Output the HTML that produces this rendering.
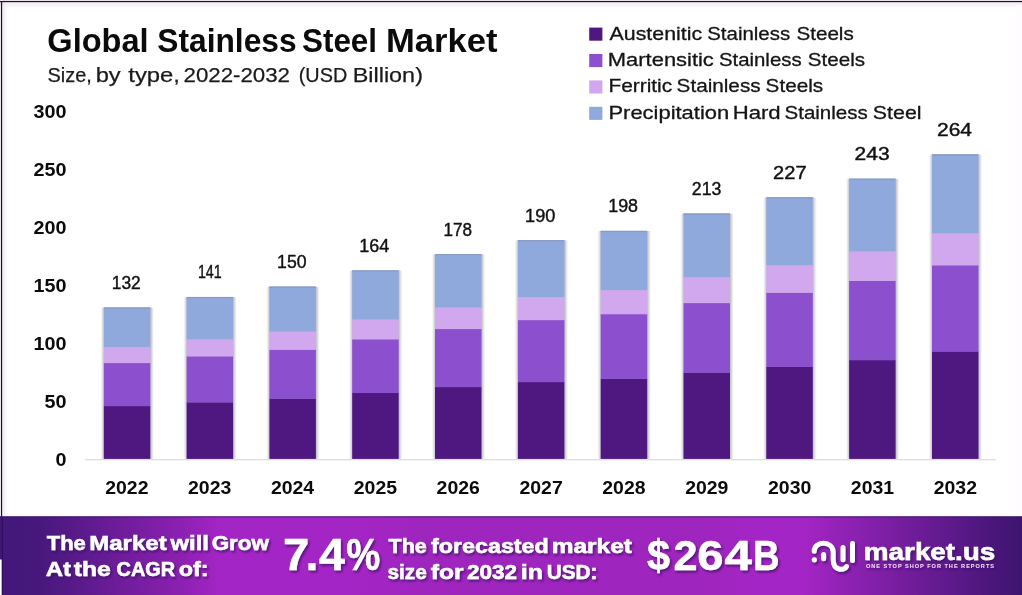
<!DOCTYPE html>
<html lang="en"><head><meta charset="utf-8"><title>Global Stainless Steel Market</title>
<style>
html,body{margin:0;padding:0;background:#fff;}
body{width:1022px;height:595px;overflow:hidden;position:relative;font-family:"Liberation Sans",sans-serif;}
svg{position:absolute;left:0;top:0;display:block;}
text{font-family:"Liberation Sans",sans-serif;white-space:pre;}
.t{font-weight:bold;fill:#0b0b0b;}
.s{fill:#1a1a1a;stroke:#1a1a1a;stroke-width:0.25px;}
.ax{font-weight:bold;fill:#0b0b0b;}
.dl{fill:#111;stroke:#111;stroke-width:0.4px;}
.lg{fill:#141414;stroke:#141414;stroke-width:0.3px;}
.w{fill:#fff;font-weight:bold;stroke:#fff;stroke-width:0.5px;}
.tag{fill:#f3dcfa;font-weight:bold;}
</style></head><body>
<svg width="1022" height="595" viewBox="0 0 1022 595">
<defs>
<linearGradient id="bg" x1="0" y1="0" x2="1" y2="0">
<stop offset="0" stop-color="#42187a"/>
<stop offset="0.04" stop-color="#48187d"/>
<stop offset="0.175" stop-color="#8a20b0"/>
<stop offset="0.215" stop-color="#a425c5"/>
<stop offset="0.33" stop-color="#a425c5"/>
<stop offset="0.45" stop-color="#9e25bd"/>
<stop offset="0.68" stop-color="#9e25bd"/>
<stop offset="0.735" stop-color="#a425c5"/>
<stop offset="0.785" stop-color="#a425c5"/>
<stop offset="1" stop-color="#3c146f"/>
</linearGradient>
<filter id="sh" x="-20%" y="-5%" width="140%" height="110%"><feGaussianBlur stdDeviation="1.1 0.4"/></filter>
<filter id="ts" x="-10%" y="-30%" width="120%" height="180%"><feDropShadow dx="1.5" dy="2" stdDeviation="0.9" flood-color="#3a0a60" flood-opacity="0.75"/></filter>
</defs>
<rect x="0" y="0" width="1022" height="595" fill="#fff"/>
<rect x="0" y="0" width="1022" height="517" fill="#fefcff"/>
<rect x="6" y="6" width="1010" height="508" fill="#fff"/>
<rect x="0" y="3.5" width="1022" height="1" fill="#eadff0"/>
<rect x="3.5" y="0" width="1" height="517" fill="#eadff0"/>
<rect x="5.5" y="5.6" width="1011" height="1" fill="#f1eef2"/>
<rect x="5.6" y="5.5" width="1" height="511" fill="#f1eef2"/>
<rect x="0" y="0.9" width="1022" height="1.3" fill="#1f0c2b"/>
<rect x="0.9" y="1" width="1.3" height="516" fill="#1f0c2b"/>

<text class="t" y="51.5" font-size="32.8"><tspan x="47.35" textLength="101.25" lengthAdjust="spacingAndGlyphs">Global</tspan> <tspan x="157.3" textLength="139.25" lengthAdjust="spacingAndGlyphs">Stainless</tspan> <tspan x="302.0" textLength="75.0" lengthAdjust="spacingAndGlyphs">Steel</tspan> <tspan x="386.05" textLength="111.5" lengthAdjust="spacingAndGlyphs">Market</tspan></text>
<text class="s" y="81.5" font-size="21.0"><tspan x="47.6" textLength="44.25" lengthAdjust="spacingAndGlyphs">Size,</tspan> <tspan x="95.7" textLength="25.0" lengthAdjust="spacingAndGlyphs">by</tspan> <tspan x="128.25" textLength="51.75" lengthAdjust="spacingAndGlyphs">type,</tspan> <tspan x="183.5" textLength="106.5" lengthAdjust="spacingAndGlyphs">2022-2032</tspan> <tspan x="298.75" textLength="48.5" lengthAdjust="spacingAndGlyphs">(USD</tspan> <tspan x="352.7" textLength="70.25" lengthAdjust="spacingAndGlyphs">Billion)</tspan></text>
<text class="lg" y="39.5" font-size="18.6"><tspan x="609.6" textLength="92.5" lengthAdjust="spacingAndGlyphs">Austenitic</tspan> <tspan x="707.2" textLength="83.0" lengthAdjust="spacingAndGlyphs">Stainless</tspan> <tspan x="796.5" textLength="57.25" lengthAdjust="spacingAndGlyphs">Steels</tspan></text>
<text class="lg" y="65.8" font-size="18.6"><tspan x="607.85" textLength="106.0" lengthAdjust="spacingAndGlyphs">Martensitic</tspan> <tspan x="718.9" textLength="82.75" lengthAdjust="spacingAndGlyphs">Stainless</tspan> <tspan x="807.8" textLength="57.25" lengthAdjust="spacingAndGlyphs">Steels</tspan></text>
<text class="lg" y="92.4" font-size="18.6"><tspan x="608.45" textLength="63.75" lengthAdjust="spacingAndGlyphs">Ferritic</tspan> <tspan x="676.6" textLength="84.0" lengthAdjust="spacingAndGlyphs">Stainless</tspan> <tspan x="765.6" textLength="57.5" lengthAdjust="spacingAndGlyphs">Steels</tspan></text>
<text class="lg" y="118.6" font-size="18.6"><tspan x="608.45" textLength="120.75" lengthAdjust="spacingAndGlyphs">Precipitation</tspan> <tspan x="732.65" textLength="48.0" lengthAdjust="spacingAndGlyphs">Hard</tspan> <tspan x="784.5" textLength="83.25" lengthAdjust="spacingAndGlyphs">Stainless</tspan> <tspan x="872.8" textLength="48.75" lengthAdjust="spacingAndGlyphs">Steel</tspan></text>
<text class="dl" x="111.75" y="288.9" font-size="17.5" textLength="29.0" lengthAdjust="spacingAndGlyphs">132</text>
<text class="dl" x="197.9" y="278.4" font-size="17.5" textLength="23.75" lengthAdjust="spacingAndGlyphs">141</text>
<text class="dl" x="277.05" y="268.0" font-size="17.5" textLength="29.5" lengthAdjust="spacingAndGlyphs">150</text>
<text class="dl" x="359.35" y="251.8" font-size="17.5" textLength="30.0" lengthAdjust="spacingAndGlyphs">164</text>
<text class="dl" x="443.55" y="235.5" font-size="17.5" textLength="28.5" lengthAdjust="spacingAndGlyphs">178</text>
<text class="dl" x="525.05" y="221.6" font-size="17.5" textLength="30.25" lengthAdjust="spacingAndGlyphs">190</text>
<text class="dl" x="608.25" y="212.3" font-size="17.5" textLength="29.75" lengthAdjust="spacingAndGlyphs">198</text>
<text class="dl" x="691.85" y="194.9" font-size="17.5" textLength="29.5" lengthAdjust="spacingAndGlyphs">213</text>
<text class="dl" x="773.1" y="178.7" font-size="17.5" textLength="33.5" lengthAdjust="spacingAndGlyphs">227</text>
<text class="dl" x="854.6" y="160.1" font-size="17.5" textLength="35.0" lengthAdjust="spacingAndGlyphs">243</text>
<text class="dl" x="937.0" y="135.8" font-size="17.5" textLength="35.0" lengthAdjust="spacingAndGlyphs">264</text>
<text class="ax" x="105.22" y="493.6" font-size="18.3" textLength="43.25" lengthAdjust="spacingAndGlyphs">2022</text>
<text class="ax" x="188.07" y="493.6" font-size="18.3" textLength="43.25" lengthAdjust="spacingAndGlyphs">2023</text>
<text class="ax" x="270.92" y="493.6" font-size="18.3" textLength="43.25" lengthAdjust="spacingAndGlyphs">2024</text>
<text class="ax" x="353.77" y="493.6" font-size="18.3" textLength="43.25" lengthAdjust="spacingAndGlyphs">2025</text>
<text class="ax" x="436.62" y="493.6" font-size="18.3" textLength="43.25" lengthAdjust="spacingAndGlyphs">2026</text>
<text class="ax" x="519.48" y="493.6" font-size="18.3" textLength="43.25" lengthAdjust="spacingAndGlyphs">2027</text>
<text class="ax" x="602.32" y="493.6" font-size="18.3" textLength="43.25" lengthAdjust="spacingAndGlyphs">2028</text>
<text class="ax" x="685.17" y="493.6" font-size="18.3" textLength="43.25" lengthAdjust="spacingAndGlyphs">2029</text>
<text class="ax" x="768.02" y="493.6" font-size="18.3" textLength="43.25" lengthAdjust="spacingAndGlyphs">2030</text>
<text class="ax" x="850.88" y="493.6" font-size="18.3" textLength="43.25" lengthAdjust="spacingAndGlyphs">2031</text>
<text class="ax" x="933.73" y="493.6" font-size="18.3" textLength="43.25" lengthAdjust="spacingAndGlyphs">2032</text>
<text class="ax" x="55.40" y="466.0" font-size="18.3" textLength="11.00" lengthAdjust="spacingAndGlyphs">0</text>
<text class="ax" x="44.40" y="408.0" font-size="18.3" textLength="22.00" lengthAdjust="spacingAndGlyphs">50</text>
<text class="ax" x="33.40" y="350.0" font-size="18.3" textLength="33.00" lengthAdjust="spacingAndGlyphs">100</text>
<text class="ax" x="33.40" y="292.0" font-size="18.3" textLength="33.00" lengthAdjust="spacingAndGlyphs">150</text>
<text class="ax" x="33.40" y="234.0" font-size="18.3" textLength="33.00" lengthAdjust="spacingAndGlyphs">200</text>
<text class="ax" x="33.40" y="176.0" font-size="18.3" textLength="33.00" lengthAdjust="spacingAndGlyphs">250</text>
<text class="ax" x="33.40" y="118.0" font-size="18.3" textLength="33.00" lengthAdjust="spacingAndGlyphs">300</text>
<rect x="85" y="459.2" width="911" height="1.1" fill="#d6d6d6"/>
<rect x="102.6" y="307.7" width="49.5" height="151.2" fill="#7d7d90" opacity="0.5" filter="url(#sh)"/>
<rect x="103.8" y="405.91" width="46.5" height="52.99" fill="#4f1880"/>
<rect x="103.8" y="362.81" width="46.5" height="43.40" fill="#8c50ce"/>
<rect x="103.8" y="346.73" width="46.5" height="16.38" fill="#d1a8ee"/>
<rect x="103.8" y="307.38" width="46.5" height="39.65" fill="#8fa9dd"/>
<rect x="103.8" y="307.38" width="46.5" height="1.3" fill="#8796c0" opacity="0.75"/>
<rect x="185.4" y="297.2" width="49.5" height="161.7" fill="#7d7d90" opacity="0.5" filter="url(#sh)"/>
<rect x="186.6" y="402.19" width="46.5" height="56.71" fill="#4f1880"/>
<rect x="186.6" y="356.15" width="46.5" height="46.34" fill="#8c50ce"/>
<rect x="186.6" y="338.97" width="46.5" height="17.47" fill="#d1a8ee"/>
<rect x="186.6" y="296.94" width="46.5" height="42.33" fill="#8fa9dd"/>
<rect x="186.6" y="296.94" width="46.5" height="1.3" fill="#8796c0" opacity="0.75"/>
<rect x="268.2" y="286.8" width="49.5" height="172.1" fill="#7d7d90" opacity="0.5" filter="url(#sh)"/>
<rect x="269.4" y="398.47" width="46.5" height="60.43" fill="#4f1880"/>
<rect x="269.4" y="349.49" width="46.5" height="49.28" fill="#8c50ce"/>
<rect x="269.4" y="331.22" width="46.5" height="18.57" fill="#d1a8ee"/>
<rect x="269.4" y="286.50" width="46.5" height="45.02" fill="#8fa9dd"/>
<rect x="269.4" y="286.50" width="46.5" height="1.3" fill="#8796c0" opacity="0.75"/>
<rect x="351.0" y="270.6" width="49.5" height="188.3" fill="#7d7d90" opacity="0.5" filter="url(#sh)"/>
<rect x="352.2" y="392.68" width="46.5" height="66.22" fill="#4f1880"/>
<rect x="352.2" y="339.13" width="46.5" height="53.85" fill="#8c50ce"/>
<rect x="352.2" y="319.15" width="46.5" height="20.28" fill="#d1a8ee"/>
<rect x="352.2" y="270.26" width="46.5" height="49.19" fill="#8fa9dd"/>
<rect x="352.2" y="270.26" width="46.5" height="1.3" fill="#8796c0" opacity="0.75"/>
<rect x="433.8" y="254.3" width="49.5" height="204.6" fill="#7d7d90" opacity="0.5" filter="url(#sh)"/>
<rect x="435.0" y="386.89" width="46.5" height="72.01" fill="#4f1880"/>
<rect x="435.0" y="328.77" width="46.5" height="58.42" fill="#8c50ce"/>
<rect x="435.0" y="307.09" width="46.5" height="21.98" fill="#d1a8ee"/>
<rect x="435.0" y="254.02" width="46.5" height="53.37" fill="#8fa9dd"/>
<rect x="435.0" y="254.02" width="46.5" height="1.3" fill="#8796c0" opacity="0.75"/>
<rect x="516.7" y="240.4" width="49.5" height="218.5" fill="#7d7d90" opacity="0.5" filter="url(#sh)"/>
<rect x="517.9" y="381.93" width="46.5" height="76.97" fill="#4f1880"/>
<rect x="517.9" y="319.88" width="46.5" height="62.34" fill="#8c50ce"/>
<rect x="517.9" y="296.74" width="46.5" height="23.44" fill="#d1a8ee"/>
<rect x="517.9" y="240.10" width="46.5" height="56.94" fill="#8fa9dd"/>
<rect x="517.9" y="240.10" width="46.5" height="1.3" fill="#8796c0" opacity="0.75"/>
<rect x="599.5" y="231.1" width="49.5" height="227.8" fill="#7d7d90" opacity="0.5" filter="url(#sh)"/>
<rect x="600.7" y="378.62" width="46.5" height="80.28" fill="#4f1880"/>
<rect x="600.7" y="313.96" width="46.5" height="64.95" fill="#8c50ce"/>
<rect x="600.7" y="289.85" width="46.5" height="24.42" fill="#d1a8ee"/>
<rect x="600.7" y="230.82" width="46.5" height="59.33" fill="#8fa9dd"/>
<rect x="600.7" y="230.82" width="46.5" height="1.3" fill="#8796c0" opacity="0.75"/>
<rect x="682.3" y="213.7" width="49.5" height="245.2" fill="#7d7d90" opacity="0.5" filter="url(#sh)"/>
<rect x="683.5" y="372.42" width="46.5" height="86.48" fill="#4f1880"/>
<rect x="683.5" y="302.86" width="46.5" height="69.85" fill="#8c50ce"/>
<rect x="683.5" y="276.92" width="46.5" height="26.24" fill="#d1a8ee"/>
<rect x="683.5" y="213.42" width="46.5" height="63.80" fill="#8fa9dd"/>
<rect x="683.5" y="213.42" width="46.5" height="1.3" fill="#8796c0" opacity="0.75"/>
<rect x="765.1" y="197.5" width="49.5" height="261.4" fill="#7d7d90" opacity="0.5" filter="url(#sh)"/>
<rect x="766.3" y="366.63" width="46.5" height="92.27" fill="#4f1880"/>
<rect x="766.3" y="292.50" width="46.5" height="74.42" fill="#8c50ce"/>
<rect x="766.3" y="264.85" width="46.5" height="27.95" fill="#d1a8ee"/>
<rect x="766.3" y="197.18" width="46.5" height="67.97" fill="#8fa9dd"/>
<rect x="766.3" y="197.18" width="46.5" height="1.3" fill="#8796c0" opacity="0.75"/>
<rect x="847.9" y="178.9" width="49.5" height="280.0" fill="#7d7d90" opacity="0.5" filter="url(#sh)"/>
<rect x="849.1" y="360.01" width="46.5" height="98.89" fill="#4f1880"/>
<rect x="849.1" y="280.66" width="46.5" height="79.65" fill="#8c50ce"/>
<rect x="849.1" y="251.06" width="46.5" height="29.90" fill="#d1a8ee"/>
<rect x="849.1" y="178.62" width="46.5" height="72.74" fill="#8fa9dd"/>
<rect x="849.1" y="178.62" width="46.5" height="1.3" fill="#8796c0" opacity="0.75"/>
<rect x="930.8" y="154.6" width="49.5" height="304.3" fill="#7d7d90" opacity="0.5" filter="url(#sh)"/>
<rect x="932.0" y="351.33" width="46.5" height="107.57" fill="#4f1880"/>
<rect x="932.0" y="265.12" width="46.5" height="86.51" fill="#8c50ce"/>
<rect x="932.0" y="232.96" width="46.5" height="32.46" fill="#d1a8ee"/>
<rect x="932.0" y="154.26" width="46.5" height="79.00" fill="#8fa9dd"/>
<rect x="932.0" y="154.26" width="46.5" height="1.3" fill="#8796c0" opacity="0.75"/>
<rect x="589.2" y="27.6" width="13.2" height="13.1" fill="#4f1880"/>
<rect x="589.2" y="54.0" width="13.2" height="13.1" fill="#8c50ce"/>
<rect x="589.2" y="80.4" width="13.2" height="13.1" fill="#d1a8ee"/>
<rect x="589.2" y="106.8" width="13.2" height="13.1" fill="#8fa9dd"/>
<rect x="0" y="516.5" width="1022" height="78.5" fill="url(#bg)"/>
<rect x="0" y="516" width="1022" height="1.5" fill="#3b1370" opacity="0.6"/>
<rect x="0" y="559.5" width="1.9" height="36" fill="#fff"/>
<rect x="1.7" y="517" width="1.2" height="78" fill="#2a0b4e" opacity="0.8"/>
<g filter="url(#ts)">
<text class="w" y="550.2" font-size="20.3"><tspan x="46.75" textLength="39.0" lengthAdjust="spacingAndGlyphs">The</tspan> <tspan x="89.2" textLength="77.5" lengthAdjust="spacingAndGlyphs">Market</tspan> <tspan x="170.6" textLength="38.25" lengthAdjust="spacingAndGlyphs">will</tspan> <tspan x="211.7" textLength="57.25" lengthAdjust="spacingAndGlyphs">Grow</tspan></text>
<text class="w" y="575.5" font-size="20.3"><tspan x="45.8" textLength="25.25" lengthAdjust="spacingAndGlyphs">At</tspan> <tspan x="73.85" textLength="37.0" lengthAdjust="spacingAndGlyphs">the</tspan> <tspan x="116.55" textLength="58.5" lengthAdjust="spacingAndGlyphs">CAGR</tspan> <tspan x="178.7" textLength="29.75" lengthAdjust="spacingAndGlyphs">of:</tspan></text>
<text class="w" y="569.8" font-size="44.3"><tspan x="283.1" textLength="26.25" lengthAdjust="spacingAndGlyphs">7</tspan><tspan x="305.8" textLength="12.5" lengthAdjust="spacingAndGlyphs">.</tspan><tspan x="319.05" textLength="26.0" lengthAdjust="spacingAndGlyphs">4</tspan><tspan x="346.2" textLength="34.0" lengthAdjust="spacingAndGlyphs">%</tspan></text>
<text class="w" y="553.2" font-size="20.3"><tspan x="388.55" textLength="38.25" lengthAdjust="spacingAndGlyphs">The</tspan> <tspan x="431.05" textLength="117.75" lengthAdjust="spacingAndGlyphs">forecasted</tspan> <tspan x="551.7" textLength="80.25" lengthAdjust="spacingAndGlyphs">market</tspan></text>
<text class="w" y="578.6" font-size="20.3"><tspan x="387.45" textLength="39.25" lengthAdjust="spacingAndGlyphs">size</tspan> <tspan x="430.8" textLength="32.75" lengthAdjust="spacingAndGlyphs">for</tspan> <tspan x="466.95" textLength="50.0" lengthAdjust="spacingAndGlyphs">2032</tspan> <tspan x="520.75" textLength="22.25" lengthAdjust="spacingAndGlyphs">in</tspan> <tspan x="546.75" textLength="50.75" lengthAdjust="spacingAndGlyphs">USD:</tspan></text>
<text class="w" y="570.2" font-size="42.5"><tspan x="646.9" textLength="23.0" lengthAdjust="spacingAndGlyphs">$</tspan><tspan x="673.4" textLength="24.0" lengthAdjust="spacingAndGlyphs">2</tspan><tspan x="697.25" textLength="26.25" lengthAdjust="spacingAndGlyphs">6</tspan><tspan x="724.45" textLength="27.5" lengthAdjust="spacingAndGlyphs">4</tspan><tspan x="753.3" textLength="26.25" lengthAdjust="spacingAndGlyphs">B</tspan></text>
<text class="w" x="863.85" y="560.2" font-size="23.6" textLength="131.5" lengthAdjust="spacingAndGlyphs">market.us</text>
<g fill="none" stroke="#fff" stroke-width="5" stroke-linecap="round" stroke-linejoin="round">
<path d="M814.2 551.2 C814.2 540.4 833.2 540.4 833.2 552.2 L833.2 560 C833.2 571 844.4 570.8 846.4 566.6"/>
<path d="M823.6 554.4 L823.6 558.8"/>
<path d="M843 547.6 L843 559.8"/>
<path d="M852.5 543.6 L852.5 560.4"/>
</g>
<circle cx="814.3" cy="559.8" r="2.6" fill="#fff"/>
<text class="tag" x="866" y="567.9" font-size="5.6" textLength="128" lengthAdjust="spacing">ONE STOP SHOP FOR THE REPORTS</text>
</g>
</svg>
</body></html>
